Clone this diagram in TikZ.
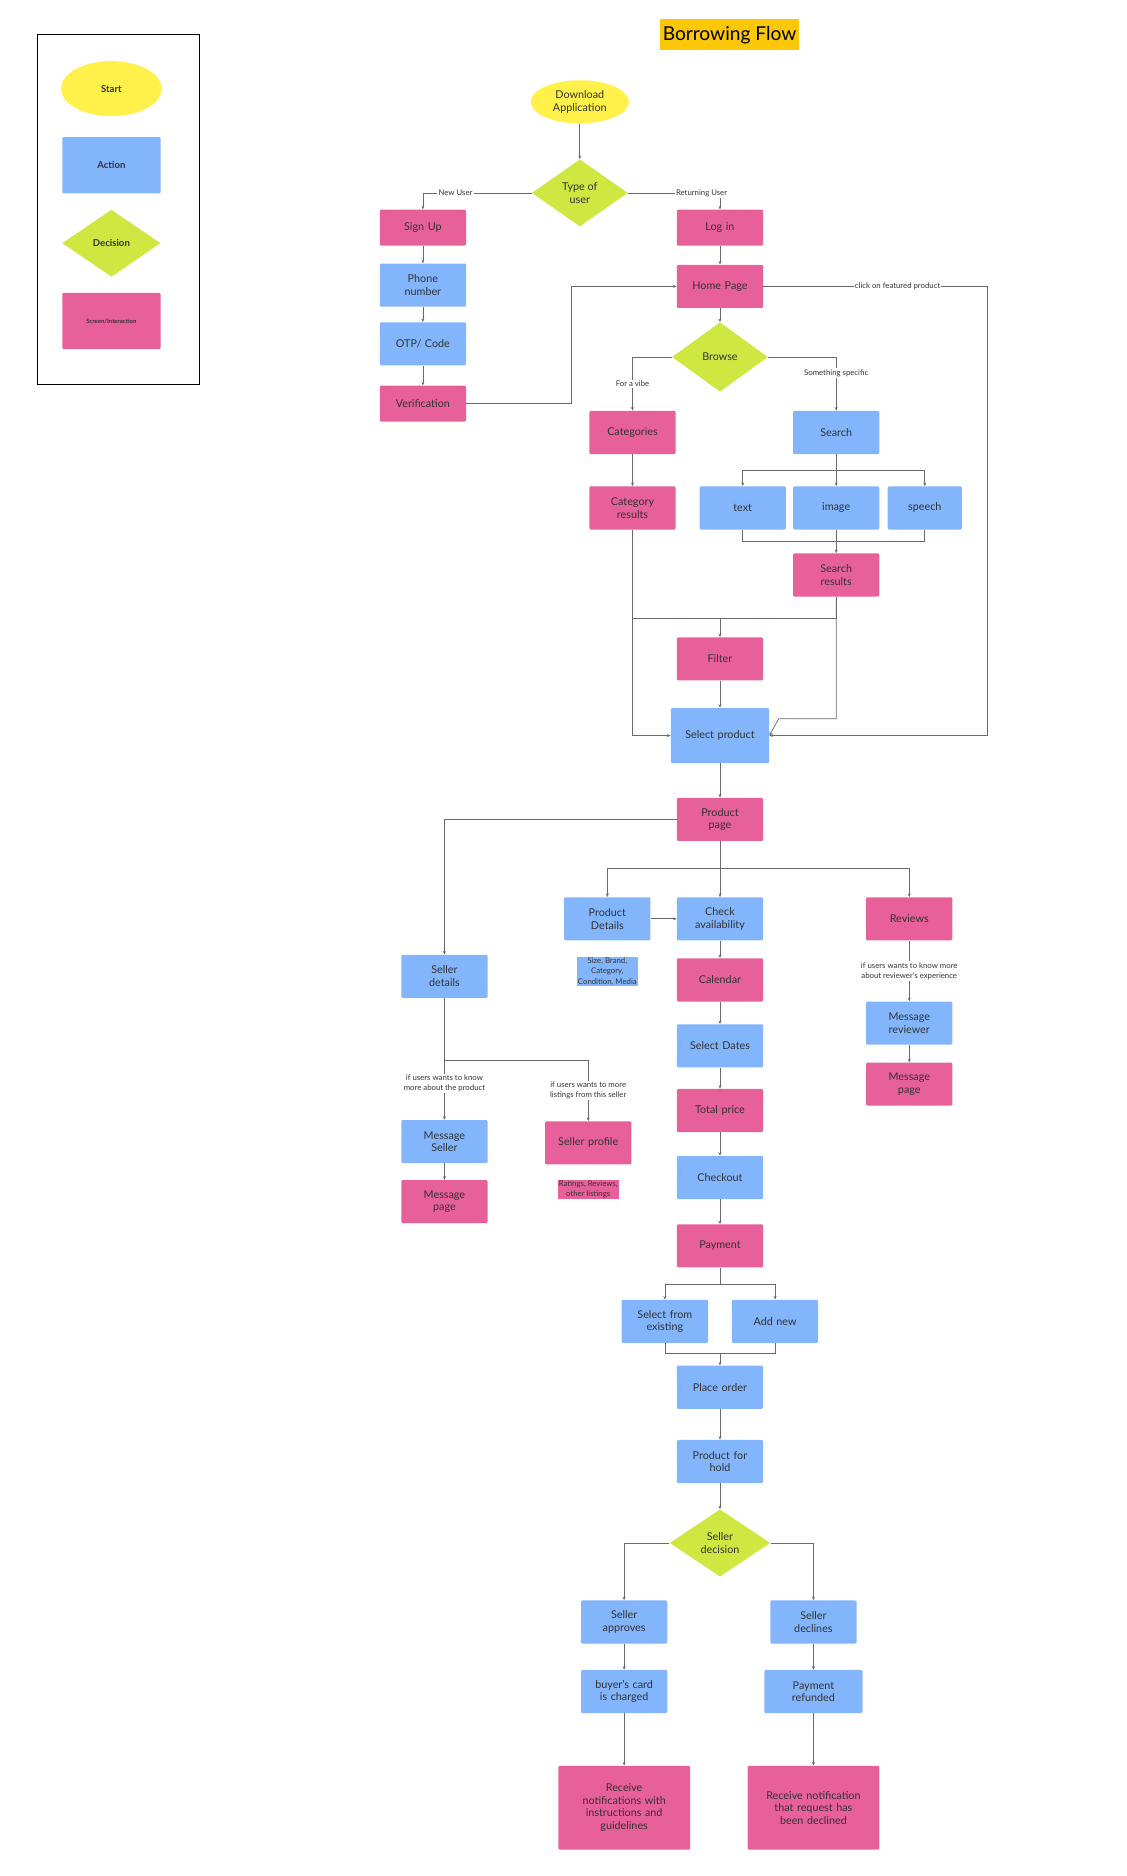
\documentclass[tikz,border=0pt]{standalone}
\usepackage{fontspec}
\setmainfont{Lato}
\usetikzlibrary{shapes.geometric,arrows.meta}
\definecolor{pk}{HTML}{E8609A}
\definecolor{bl}{HTML}{82B5FB}
\definecolor{gr}{HTML}{CEE741}
\definecolor{yl}{HTML}{FFF04A}
\definecolor{tx}{HTML}{333333}
\definecolor{ln}{HTML}{6A6A6A}
\begin{document}
\begin{tikzpicture}[x=1pt,y=-1pt,
 box/.style={rectangle,rounded corners=1pt,inner sep=1pt,text=tx,align=center,font=\fontsize{9}{10.5}\selectfont,minimum width=72pt,minimum height=36pt,text width=70pt},
 P/.style={box,fill=pk},
 B/.style={box,fill=bl},
 D/.style={diamond,fill=gr,inner sep=0pt,text=tx,align=center,font=\fontsize{9}{10.5}\selectfont,minimum width=80pt,minimum height=56pt},
 Y/.style={ellipse,fill=yl,inner sep=0pt,text=tx,align=center,font=\fontsize{9}{10.5}\selectfont},
 lab/.style={fill=white,inner sep=1pt,text=tx,align=center,font=\fontsize{6.5}{8.5}\selectfont},
 e/.style={draw=ln,line width=0.6pt,-{Stealth[length=3pt,width=2.5pt]}},
 l/.style={draw=ln,line width=0.6pt}]
\useasboundingbox (0,0) rectangle (940,1566);
% legend
\node[draw=black,line width=0.6pt,minimum width=135pt,minimum height=292pt,inner sep=0] (leg) at (98.5,175) {};
\node[Y,minimum width=84pt,minimum height=46pt,font=\fontsize{8}{9}\selectfont\bfseries] (l1) at (93,74) {Start};
\node[B,minimum width=82pt,text width=80pt,minimum height=47pt,font=\fontsize{8}{9}\selectfont\bfseries] (l2) at (93,138) {Action};
\node[D,minimum width=82pt,font=\fontsize{8}{9}\selectfont\bfseries] (l3) at (93,203) {Decision};
\node[P,minimum width=82pt,text width=80pt,minimum height=47pt,font=\fontsize{5}{6}\selectfont\bfseries] (l4) at (93,268) {Screen/Interaction};
% title
\node[fill=orange!40!yellow,fill=yellow!60!orange,inner sep=2pt,font=\fontsize{16}{18}\selectfont,text=black,minimum height=26pt] (title) at (609,29) {Borrowing Flow};
% nodes
\node[Y,minimum width=82pt,minimum height=36pt] (dl) at (484,85) {Download\\Application};
\node[D] (type) at (484,161) {Type of\\user};
\node[P,minimum height=30pt] (su) at (353,190) {Sign Up};
\node[B] (ph) at (353,238) {Phone\\number};
\node[B] (otp) at (353,287) {OTP/ Code};
\node[P,minimum height=30pt] (ver) at (353,337) {Verification};
\node[P,minimum height=30pt] (li) at (601,190) {Log in};
\node[P] (home) at (601,239) {Home Page};
\node[D,minimum height=58pt] (br) at (601,298) {Browse};
\node[P] (cat) at (528,361) {Categories};
\node[B] (sea) at (698,361) {Search};
\node[P] (catr) at (528,424) {Category\\results};
\node[B] (txt) at (620,424) {text};
\node[B] (img) at (698,424) {image};
\node[B,minimum width=62pt,text width=60pt] (sp) at (772,424) {speech};
\node[P] (sr) at (698,480) {Search\\results};
\node[P] (fil) at (601,550) {Filter};
\node[B,minimum width=82pt,text width=80pt,minimum height=46pt] (sel) at (601,614) {Select product};
\node[P] (pp) at (601,684) {Product\\page};
\node[B] (pd) at (507,767) {Product\\Details};
\node[B] (ca) at (601,767) {Check\\availability};
\node[P] (rev) at (759,767) {Reviews};
\node[fill=bl,inner sep=1pt,text=tx,align=center,font=\fontsize{6.5}{8.5}\selectfont] (pdl) at (507,811) {Size, Brand,\\Category,\\Condition, Media};
\node[B] (sd) at (371,815) {Seller\\details};
\node[P] (cal) at (601,818) {Calendar};
\node[B] (dates) at (601,873) {Select Dates};
\node[P] (tot) at (601,927) {Total price};
\node[B] (co) at (601,983) {Checkout};
\node[P] (pay) at (601,1040) {Payment};
\node[B] (mr) at (759,854) {Message\\reviewer};
\node[P] (mp1) at (759,905) {Message\\page};
\node[B] (ms) at (371,953) {Message\\Seller};
\node[P] (mp2) at (371,1003) {Message\\page};
\node[P] (spf) at (491,954) {Seller profile};
\node[fill=pk,inner sep=1pt,text=tx,align=center,font=\fontsize{6.5}{8.5}\selectfont] (spl) at (491,993) {Ratings, Reviews,\\other listings};
\node[B] (sfe) at (555,1103) {Select from\\existing};
\node[B] (an) at (647,1103) {Add new};
\node[B] (po) at (601,1158) {Place order};
\node[B] (ph2) at (601,1220) {Product for\\hold};
\node[D,minimum width=84pt] (sdec) at (601,1288) {Seller\\decision};
\node[B] (sa) at (521,1354) {Seller\\approves};
\node[B] (sdl) at (679,1354) {Seller\\declines};
\node[B] (bc) at (521,1412) {buyer's card\\is charged};
\node[B,minimum width=82pt,text width=80pt] (prf) at (679,1412) {Payment\\refunded};
\node[P,minimum width=110pt,text width=104pt,minimum height=70pt] (rn) at (521,1509) {Receive\\notifications with\\instructions and\\guidelines};
\node[P,minimum width=110pt,text width=104pt,minimum height=70pt] (rd) at (679,1509) {Receive notification\\that request has\\been declined};
% coordinates
\coordinate (bus1) at (698,393);
\coordinate (bus2) at (698,452);
\coordinate (fj) at (601,516);
\coordinate (pj) at (601,725);
\coordinate (sj) at (371,885);
\coordinate (payj) at (601,1072);
\coordinate (poj) at (601,1130);
% edges
\draw[e] (dl) -- (type);
\draw[e] (type.west) -| node[lab,pos=0.35]{New User} (su.north);
\draw[e] (type.east) -| node[lab,pos=0.4]{Returning User} (li.north);
\draw[e] (su) -- (ph);
\draw[e] (ph) -- (otp);
\draw[e] (otp) -- (ver);
\draw[e] (ver.east) -- (477,337) -- (477,239) -- (home.west);
\draw[e] (li) -- (home);
\draw[e] (home) -- (br);
\draw[e] (home.east) -- (824,239) node[lab,pos=0.6]{click on featured product} -- (824,614) -- (sel.east);
\draw[e] (br.west) -| node[lab,pos=0.75]{For a vibe} (cat.north);
\draw[e] (br.east) -| node[lab,pos=0.65]{Something specific} (sea.north);
\draw[e] (cat) -- (catr);
\draw[l] (sea.south) -- (bus1);
\draw[e] (bus1) -| (txt.north);
\draw[e] (bus1) -| (sp.north);
\draw[e] (bus1) -- (img.north);
\draw[l] (txt.south) |- (bus2);
\draw[l] (sp.south) |- (bus2);
\draw[l] (img.south) -- (bus2);
\draw[e] (bus2) -- (sr.north);
\draw[l] (catr.south) |- (fj);
\draw[l] (sr.south) |- (fj);
\draw[e] (fj) -- (fil);
\draw[e] (catr.south) |- (sel.west);
\draw[e] (sr.south) -- (698,600) -- (650,600) -- (sel.east);
\draw[e] (fil) -- (sel);
\draw[e] (sel) -- (pp);
\draw[e] (pp.west) -| (sd.north);
\draw[l] (pp.south) -- (pj);
\draw[e] (pj) -| (pd.north);
\draw[e] (pj) -| (rev.north);
\draw[e] (pj) -- (ca.north);
\draw[e] (pd) -- (ca);
\draw[e] (ca) -- (cal);
\draw[e] (cal) -- (dates);
\draw[e] (dates) -- (tot);
\draw[e] (tot) -- (co);
\draw[e] (co) -- (pay);
\draw[e] (rev) -- node[lab]{if users wants to know more\\about reviewer's experience} (mr);
\draw[e] (mr) -- (mp1);
\draw[e] (sd) -- node[lab,pos=0.7]{if users wants to know\\more about the product} (ms);
\draw[e] (sj) -| node[lab,pos=0.75]{if users wants to more\\listings from this seller} (spf.north);
\draw[e] (ms) -- (mp2);
\draw[l] (pay.south) -- (payj);
\draw[e] (payj) -| (sfe.north);
\draw[e] (payj) -| (an.north);
\draw[l] (sfe.south) |- (poj);
\draw[l] (an.south) |- (poj);
\draw[e] (poj) -- (po.north);
\draw[e] (po) -- (ph2);
\draw[e] (ph2) -- (sdec);
\draw[e] (sdec.west) -| (sa.north);
\draw[e] (sdec.east) -| (sdl.north);
\draw[e] (sa) -- (bc);
\draw[e] (bc) -- (rn);
\draw[e] (sdl) -- (prf);
\draw[e] (prf) -- (rd);
\end{tikzpicture}
\end{document}
